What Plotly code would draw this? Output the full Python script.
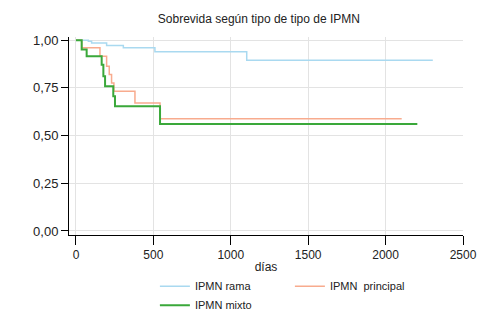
import plotly.graph_objects as go

# Kaplan-Meier step data (days, survival)
rama_days = [0, 80, 101, 198, 306, 510, 1103, 2305]
rama_surv = [1.0, 0.995, 0.986, 0.972, 0.960, 0.940, 0.895, 0.895]

principal_days = [0, 37, 155, 198, 215, 230, 245, 381, 543, 2104]
principal_surv = [1.0, 0.960, 0.916, 0.864, 0.820, 0.776, 0.732, 0.671, 0.589, 0.589]

mixto_days = [0, 37, 69, 166, 177, 188, 241, 252, 543, 2205]
mixto_surv = [1.0, 0.951, 0.916, 0.872, 0.811, 0.759, 0.707, 0.654, 0.561, 0.561]

x_ticks = [0, 500, 1000, 1500, 2000, 2500]
y_ticks = [0.0, 0.25, 0.5, 0.75, 1.0]
y_tick_labels = ["0,00", "0,25", "0,50", "0,75", "1,00"]

FONT = "Liberation Sans, Arial, sans-serif"

fig = go.Figure()
fig.add_trace(go.Scatter(x=rama_days, y=rama_surv, mode="lines", line_shape="hv",
                         name="IPMN rama", line=dict(color="#a9d9f0", width=1.5)))
fig.add_trace(go.Scatter(x=principal_days, y=principal_surv, mode="lines", line_shape="hv",
                         name="IPMN  principal", line=dict(color="#f8ab8e", width=1.5)))
fig.add_trace(go.Scatter(x=mixto_days, y=mixto_surv, mode="lines", line_shape="hv",
                         name="IPMN mixto", line=dict(color="#3aa83a", width=2)))

fig.update_layout(
    width=496, height=324,
    margin=dict(l=69, r=33, t=37, b=89, autoexpand=False),
    paper_bgcolor="white", plot_bgcolor="white",
    font=dict(family=FONT, size=12, color="#222222"),
    title=dict(text="Sobrevida según tipo de tipo de IPMN", x=0.522, xanchor="center",
               y=0.943, yanchor="middle", font=dict(size=12, color="#222222")),
    showlegend=True,
    legend=dict(orientation="h", x=0.218, xanchor="left", y=-0.185, yanchor="top",
                entrywidth=90, font=dict(size=11, color="#222222"),
                traceorder="normal", tracegroupgap=0, itemwidth=30),
)
fig.update_xaxes(range=[-45, 2500], tickvals=x_ticks, ticktext=[str(v) for v in x_ticks],
                 showline=True, linecolor="black", linewidth=1, ticks="outside", ticklen=9,
                 tickcolor="black", showgrid=True, gridcolor="#e3e3e3", gridwidth=1,
                 zeroline=False, title=dict(text="días", standoff=1, font=dict(size=12)))
fig.update_yaxes(range=[-0.021, 1.017], tickvals=y_ticks, ticktext=y_tick_labels,
                 showline=True, linecolor="black", linewidth=1, ticks="outside", ticklen=7,
                 tickcolor="black", showgrid=True, gridcolor="#e3e3e3", gridwidth=1,
                 zeroline=False, tickfont=dict(size=13))

fig.write_html("out.html", config={"displayModeBar": False},
               post_script="document.body.style.margin='0';")
